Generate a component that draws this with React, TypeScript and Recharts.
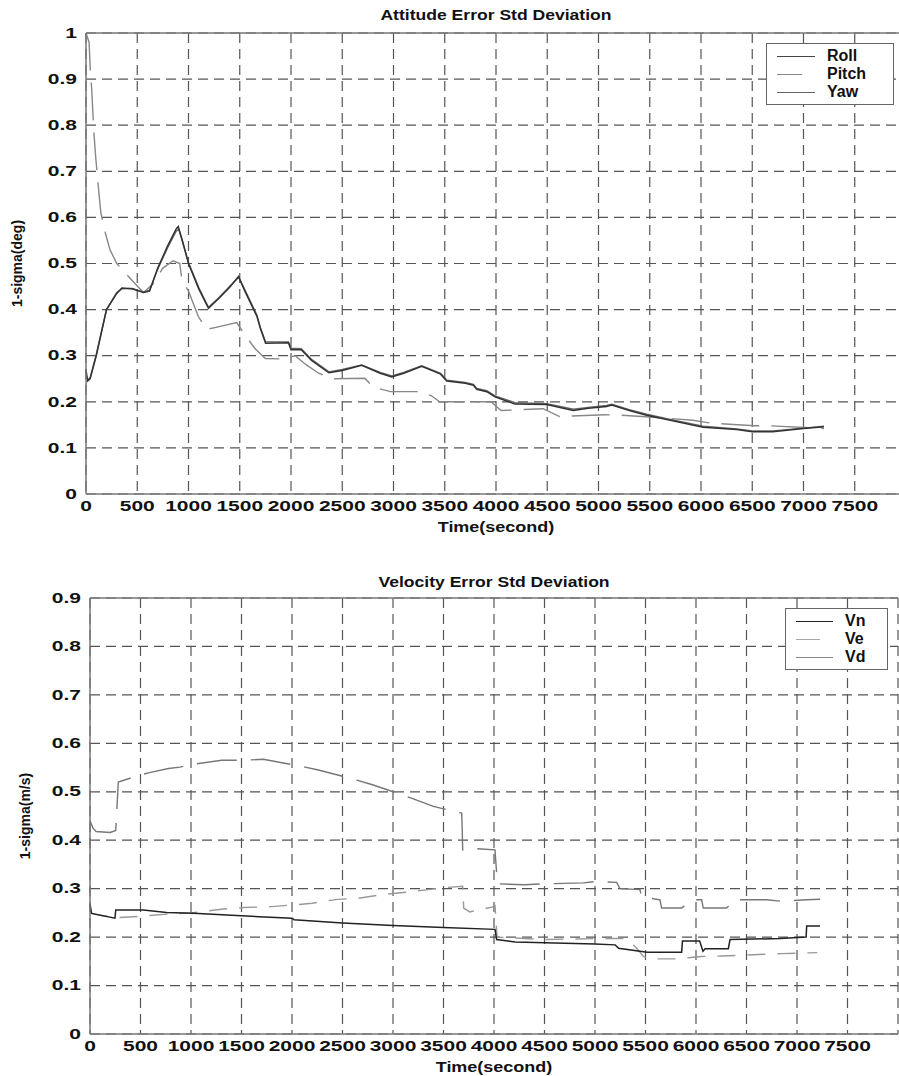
import { CartesianGrid, Line, LineChart, ReferenceLine, XAxis, YAxis } from 'recharts'

type Pt = { t: number; v: number }
const pts = (rows: number[][]): Pt[] => rows.map(([t, v]) => ({ t, v }))

const xTicks = [0, 500, 1000, 1500, 2000, 2500, 3000, 3500, 4000, 4500, 5000, 5500, 6000, 6500, 7000, 7500]
const attTicks = [0, 0.1, 0.2, 0.3, 0.4, 0.5, 0.6, 0.7, 0.8, 0.9, 1]
const velTicks = [0, 0.1, 0.2, 0.3, 0.4, 0.5, 0.6, 0.7, 0.8, 0.9]

// attitude error 1-sigma (deg)
const roll = pts([
  [0, 0.27], [15, 0.245], [40, 0.25], [100, 0.3], [200, 0.4], [300, 0.435], [350, 0.447], [450, 0.445],
  [560, 0.437], [620, 0.44], [700, 0.49], [800, 0.54], [880, 0.575], [900, 0.58], [940, 0.55], [1000, 0.5],
  [1100, 0.445], [1195, 0.403], [1300, 0.425], [1400, 0.448], [1488, 0.472], [1550, 0.44], [1668, 0.385],
  [1700, 0.36], [1752, 0.327], [1975, 0.328], [2000, 0.313], [2100, 0.313], [2200, 0.29], [2370, 0.263],
  [2500, 0.268], [2690, 0.279], [2870, 0.262], [2983, 0.254], [3100, 0.262], [3275, 0.277], [3460, 0.26],
  [3520, 0.245], [3700, 0.24], [3780, 0.236], [3812, 0.227], [3910, 0.222], [3990, 0.211], [4185, 0.195],
  [4494, 0.194], [4754, 0.181], [4900, 0.186], [5079, 0.19], [5130, 0.193], [5300, 0.181], [5470, 0.171],
  [5700, 0.16], [6020, 0.145], [6350, 0.14], [6500, 0.135], [6700, 0.135], [7000, 0.142], [7200, 0.146],
])
const pitch = pts([
  [0, 1.0], [30, 0.98], [42, 0.92], [55, 0.88], [78, 0.78], [95, 0.73], [127, 0.65], [145, 0.61], [190, 0.565],
  [234, 0.53], [300, 0.5], [430, 0.468], [560, 0.437], [650, 0.455], [750, 0.49], [850, 0.506], [915, 0.5],
  [935, 0.465], [1000, 0.44], [1096, 0.385], [1177, 0.357], [1300, 0.363], [1470, 0.372], [1550, 0.345],
  [1650, 0.315], [1750, 0.294], [1900, 0.293], [2040, 0.3], [2150, 0.28], [2270, 0.262], [2400, 0.25],
  [2720, 0.251], [2800, 0.232], [2970, 0.222], [3270, 0.222], [3370, 0.213], [3450, 0.2], [3950, 0.2],
  [4050, 0.181], [4460, 0.185], [4620, 0.168], [5060, 0.172], [5210, 0.171], [5500, 0.167], [5920, 0.16],
  [6090, 0.154], [6520, 0.148], [6670, 0.148], [7130, 0.143], [7200, 0.142],
])
const yaw = pts([
  [0, 0.26], [15, 0.248], [40, 0.252], [100, 0.302], [200, 0.4], [300, 0.437], [350, 0.445], [450, 0.446],
  [560, 0.438], [620, 0.442], [700, 0.488], [800, 0.536], [880, 0.57], [905, 0.574], [940, 0.548], [1000, 0.502],
  [1100, 0.448], [1195, 0.405], [1300, 0.427], [1400, 0.45], [1490, 0.47], [1550, 0.443], [1668, 0.388],
  [1700, 0.362], [1752, 0.33], [1975, 0.33], [2000, 0.316], [2100, 0.315], [2200, 0.292], [2370, 0.265],
  [2500, 0.27], [2690, 0.28], [2870, 0.264], [2983, 0.256], [3100, 0.264], [3275, 0.278], [3460, 0.262],
  [3520, 0.247], [3700, 0.242], [3780, 0.238], [3812, 0.229], [3910, 0.224], [3990, 0.213], [4185, 0.198],
  [4494, 0.196], [4754, 0.184], [4900, 0.188], [5079, 0.192], [5130, 0.195], [5300, 0.183], [5470, 0.173],
  [5700, 0.162], [6020, 0.147], [6350, 0.141], [6500, 0.137], [6700, 0.137], [7000, 0.143], [7200, 0.147],
])

// velocity error 1-sigma (m/s)
const vn = pts([
  [0, 0.268], [16, 0.249], [247, 0.239], [255, 0.256], [528, 0.256], [759, 0.251], [1023, 0.249], [1500, 0.244],
  [2000, 0.239], [2020, 0.236], [2500, 0.229], [3000, 0.224], [3500, 0.22], [4010, 0.216], [4026, 0.195],
  [4208, 0.19], [5000, 0.186], [5200, 0.184], [5234, 0.177], [5515, 0.169], [5858, 0.169], [5866, 0.192],
  [6036, 0.192], [6069, 0.171], [6090, 0.176], [6320, 0.176], [6337, 0.195], [6832, 0.197], [7090, 0.2],
  [7096, 0.223], [7228, 0.223],
])
const ve = pts([
  [0, 0.25], [100, 0.245], [250, 0.24], [500, 0.243], [800, 0.248], [1000, 0.25], [1320, 0.258], [1520, 0.261],
  [1800, 0.263], [2050, 0.267], [2200, 0.27], [2450, 0.278], [2650, 0.28], [2900, 0.288], [3100, 0.292],
  [3350, 0.298], [3500, 0.302], [3690, 0.305], [3700, 0.26], [3760, 0.252], [3980, 0.262], [4010, 0.265],
  [4030, 0.2], [4500, 0.195], [5000, 0.197], [5300, 0.197], [5400, 0.18], [5480, 0.16], [5544, 0.155],
  [5800, 0.155], [5950, 0.158], [6050, 0.16], [6250, 0.161], [6500, 0.163], [6850, 0.166], [7200, 0.168],
])
const vd = pts([
  [0, 0.44], [30, 0.425], [60, 0.418], [200, 0.416], [255, 0.42], [280, 0.52], [396, 0.528], [500, 0.535],
  [600, 0.54], [777, 0.548], [891, 0.551], [1000, 0.556], [1304, 0.565], [1485, 0.565], [1716, 0.567],
  [1900, 0.56], [2129, 0.551], [2261, 0.545], [2500, 0.532], [2640, 0.524], [2789, 0.515], [3000, 0.5],
  [3168, 0.488], [3400, 0.47], [3550, 0.462], [3680, 0.456], [3685, 0.425], [3690, 0.38], [3800, 0.383],
  [4010, 0.38], [4015, 0.365], [4026, 0.332], [4035, 0.31], [4300, 0.308], [4500, 0.31], [4884, 0.312],
  [5016, 0.315], [5214, 0.313], [5247, 0.3], [5445, 0.298], [5462, 0.283], [5643, 0.277], [5660, 0.26],
  [5858, 0.26], [5957, 0.277], [6056, 0.277], [6072, 0.26], [6303, 0.26], [6386, 0.277], [6700, 0.277],
  [6848, 0.274], [7096, 0.277], [7228, 0.278],
])

const FONT = '"Liberation Sans", Arial, sans-serif'

const XTick = ({ x, y, payload }: any) => (
  <text
    transform={`translate(${x},${y + 4}) scale(1.5,1)`}
    textAnchor="middle"
    dominantBaseline="central"
    fontFamily={FONT}
    fontWeight="bold"
    fontSize={14}
    fill="#111"
  >
    {payload.value}
  </text>
)

const YTick = ({ x, y, payload }: any) => (
  <text
    transform={`translate(${x - 1},${y}) scale(1.5,1)`}
    textAnchor="end"
    dominantBaseline="central"
    fontFamily={FONT}
    fontWeight="bold"
    fontSize={14}
    fill="#111"
  >
    {payload.value}
  </text>
)

const xLabel = {
  content: ({ viewBox }: any) => {
    const cx = viewBox.x + viewBox.width / 2
    const cy = viewBox.y + 33
    return (
      <text
        transform={`translate(${cx},${cy}) scale(1.2,1)`}
        textAnchor="middle"
        dominantBaseline="central"
        fontFamily={FONT}
        fontWeight="bold"
        fontSize={15}
        fill="#111"
      >
        Time(second)
      </text>
    )
  },
}

const yLabel = (text: string, x: number) => ({
  content: ({ viewBox }: any) => {
    const cy = viewBox.y + viewBox.height / 2
    return (
      <text
        x={x}
        y={cy}
        transform={`rotate(-90 ${x} ${cy})`}
        textAnchor="middle"
        dominantBaseline="central"
        fontFamily={FONT}
        fontWeight="bold"
        fontSize={14}
        fill="#111"
      >
        {text}
      </text>
    )
  },
})

const Title = ({ text, top, center }: { text: string; top: number; center: number }) => (
  <div
    style={{
      position: 'absolute',
      top,
      left: center - 200,
      width: 400,
      textAlign: 'center',
      fontFamily: FONT,
      fontWeight: 'bold',
      fontSize: 15,
      lineHeight: '18px',
      color: '#111',
      transform: 'scaleX(1.17)',
      zIndex: 2,
    }}
  >
    {text}
  </div>
)

type Item = { name: string; color: string; len: number }
const LegendBox = ({ items, w, sampleW, left, top }: { items: Item[]; w: number; sampleW: number; left: number; top: number }) => (
  <div
    style={{
      position: 'absolute',
      left,
      top,
      width: w,
      border: '1.5px solid #666',
      background: '#fff',
      padding: '3px 0 3px 0',
      fontFamily: FONT,
      fontWeight: 'bold',
      fontSize: 16,
      color: '#111',
      zIndex: 3,
    }}
  >
    {items.map((it) => (
      <div key={it.name} style={{ display: 'flex', alignItems: 'center', height: 18 }}>
        <div style={{ width: sampleW, marginLeft: 10, display: 'flex' }}>
          <div style={{ width: it.len, height: 0, borderTop: `1.5px solid ${it.color}` }} />
        </div>
        <span style={{ marginLeft: 12 }}>{it.name}</span>
      </div>
    ))}
  </div>
)

const attItems: Item[] = [
  { name: 'Roll', color: '#444', len: 38 },
  { name: 'Pitch', color: '#888', len: 25 },
  { name: 'Yaw', color: '#666', len: 38 },
]
const velItems: Item[] = [
  { name: 'Vn', color: '#222', len: 37 },
  { name: 'Ve', color: '#aaa', len: 24 },
  { name: 'Vd', color: '#888', len: 37 },
]

export default function App() {
  return (
    <div
      style={{
        position: 'absolute',
        left: 0,
        top: 0,
        width: 899,
        height: 1076,
        overflow: 'hidden',
        background: '#fff',
      }}
    >
      <Title text="Attitude Error Std Deviation" top={6} center={496} />
      <div style={{ position: 'absolute', left: 0, top: 0 }}>
        <LineChart width={930} height={540} margin={{ top: 33, right: 24, left: 26, bottom: 6 }}>
          <CartesianGrid strokeDasharray="10 6" stroke="#555" strokeWidth={1.2} />
          <XAxis
            dataKey="t"
            type="number"
            domain={[0, 8000]}
            ticks={xTicks}
            height={40}
            tick={<XTick />}
            tickLine={false}
            axisLine={{ stroke: '#777', strokeWidth: 1.5 }}
            label={xLabel}
          />
          <YAxis
            dataKey="v"
            type="number"
            domain={[0, 1]}
            ticks={attTicks}
            width={60}
            tick={<YTick />}
            tickLine={false}
            axisLine={{ stroke: '#777', strokeWidth: 1.5 }}
            label={yLabel('1-sigma(deg)', 17)}
          />
          <ReferenceLine y={1} stroke="#777" strokeWidth={1.5} />
          <Line data={pitch} dataKey="v" name="Pitch" stroke="#888" strokeWidth={1.4} strokeDasharray="38 12" dot={false} activeDot={false} isAnimationActive={false} />
          <Line data={yaw} dataKey="v" name="Yaw" stroke="#666" strokeWidth={1.4} dot={false} activeDot={false} isAnimationActive={false} />
          <Line data={roll} dataKey="v" name="Roll" stroke="#333" strokeWidth={1.5} dot={false} activeDot={false} isAnimationActive={false} />
        </LineChart>
      </div>
      <LegendBox items={attItems} w={126} sampleW={38} left={766} top={43} />

      <Title text="Velocity Error Std Deviation" top={573} center={494} />
      <div style={{ position: 'absolute', left: 0, top: 540 }}>
        <LineChart width={930} height={536} margin={{ top: 58, right: 32, left: 30, bottom: 2 }}>
          <CartesianGrid strokeDasharray="10 6" stroke="#555" strokeWidth={1.2} />
          <XAxis
            dataKey="t"
            type="number"
            domain={[0, 8000]}
            ticks={xTicks}
            height={40}
            tick={<XTick />}
            tickLine={false}
            axisLine={{ stroke: '#777', strokeWidth: 1.5 }}
            label={xLabel}
          />
          <YAxis
            dataKey="v"
            type="number"
            domain={[0, 0.9]}
            ticks={velTicks}
            width={60}
            tick={<YTick />}
            tickLine={false}
            axisLine={{ stroke: '#777', strokeWidth: 1.5 }}
            label={yLabel('1-sigma(m/s)', 25)}
          />
          <ReferenceLine y={0.9} stroke="#777" strokeWidth={1.5} />
          <Line data={vd} dataKey="v" name="Vd" stroke="#777" strokeWidth={1.4} strokeDasharray="40 14" dot={false} activeDot={false} isAnimationActive={false} />
          <Line data={ve} dataKey="v" name="Ve" stroke="#999" strokeWidth={1.4} strokeDasharray="18 12" dot={false} activeDot={false} isAnimationActive={false} />
          <Line data={vn} dataKey="v" name="Vn" stroke="#222" strokeWidth={1.5} dot={false} activeDot={false} isAnimationActive={false} />
        </LineChart>
      </div>
      <LegendBox items={velItems} w={101} sampleW={37} left={785} top={608} />
    </div>
  )
}
